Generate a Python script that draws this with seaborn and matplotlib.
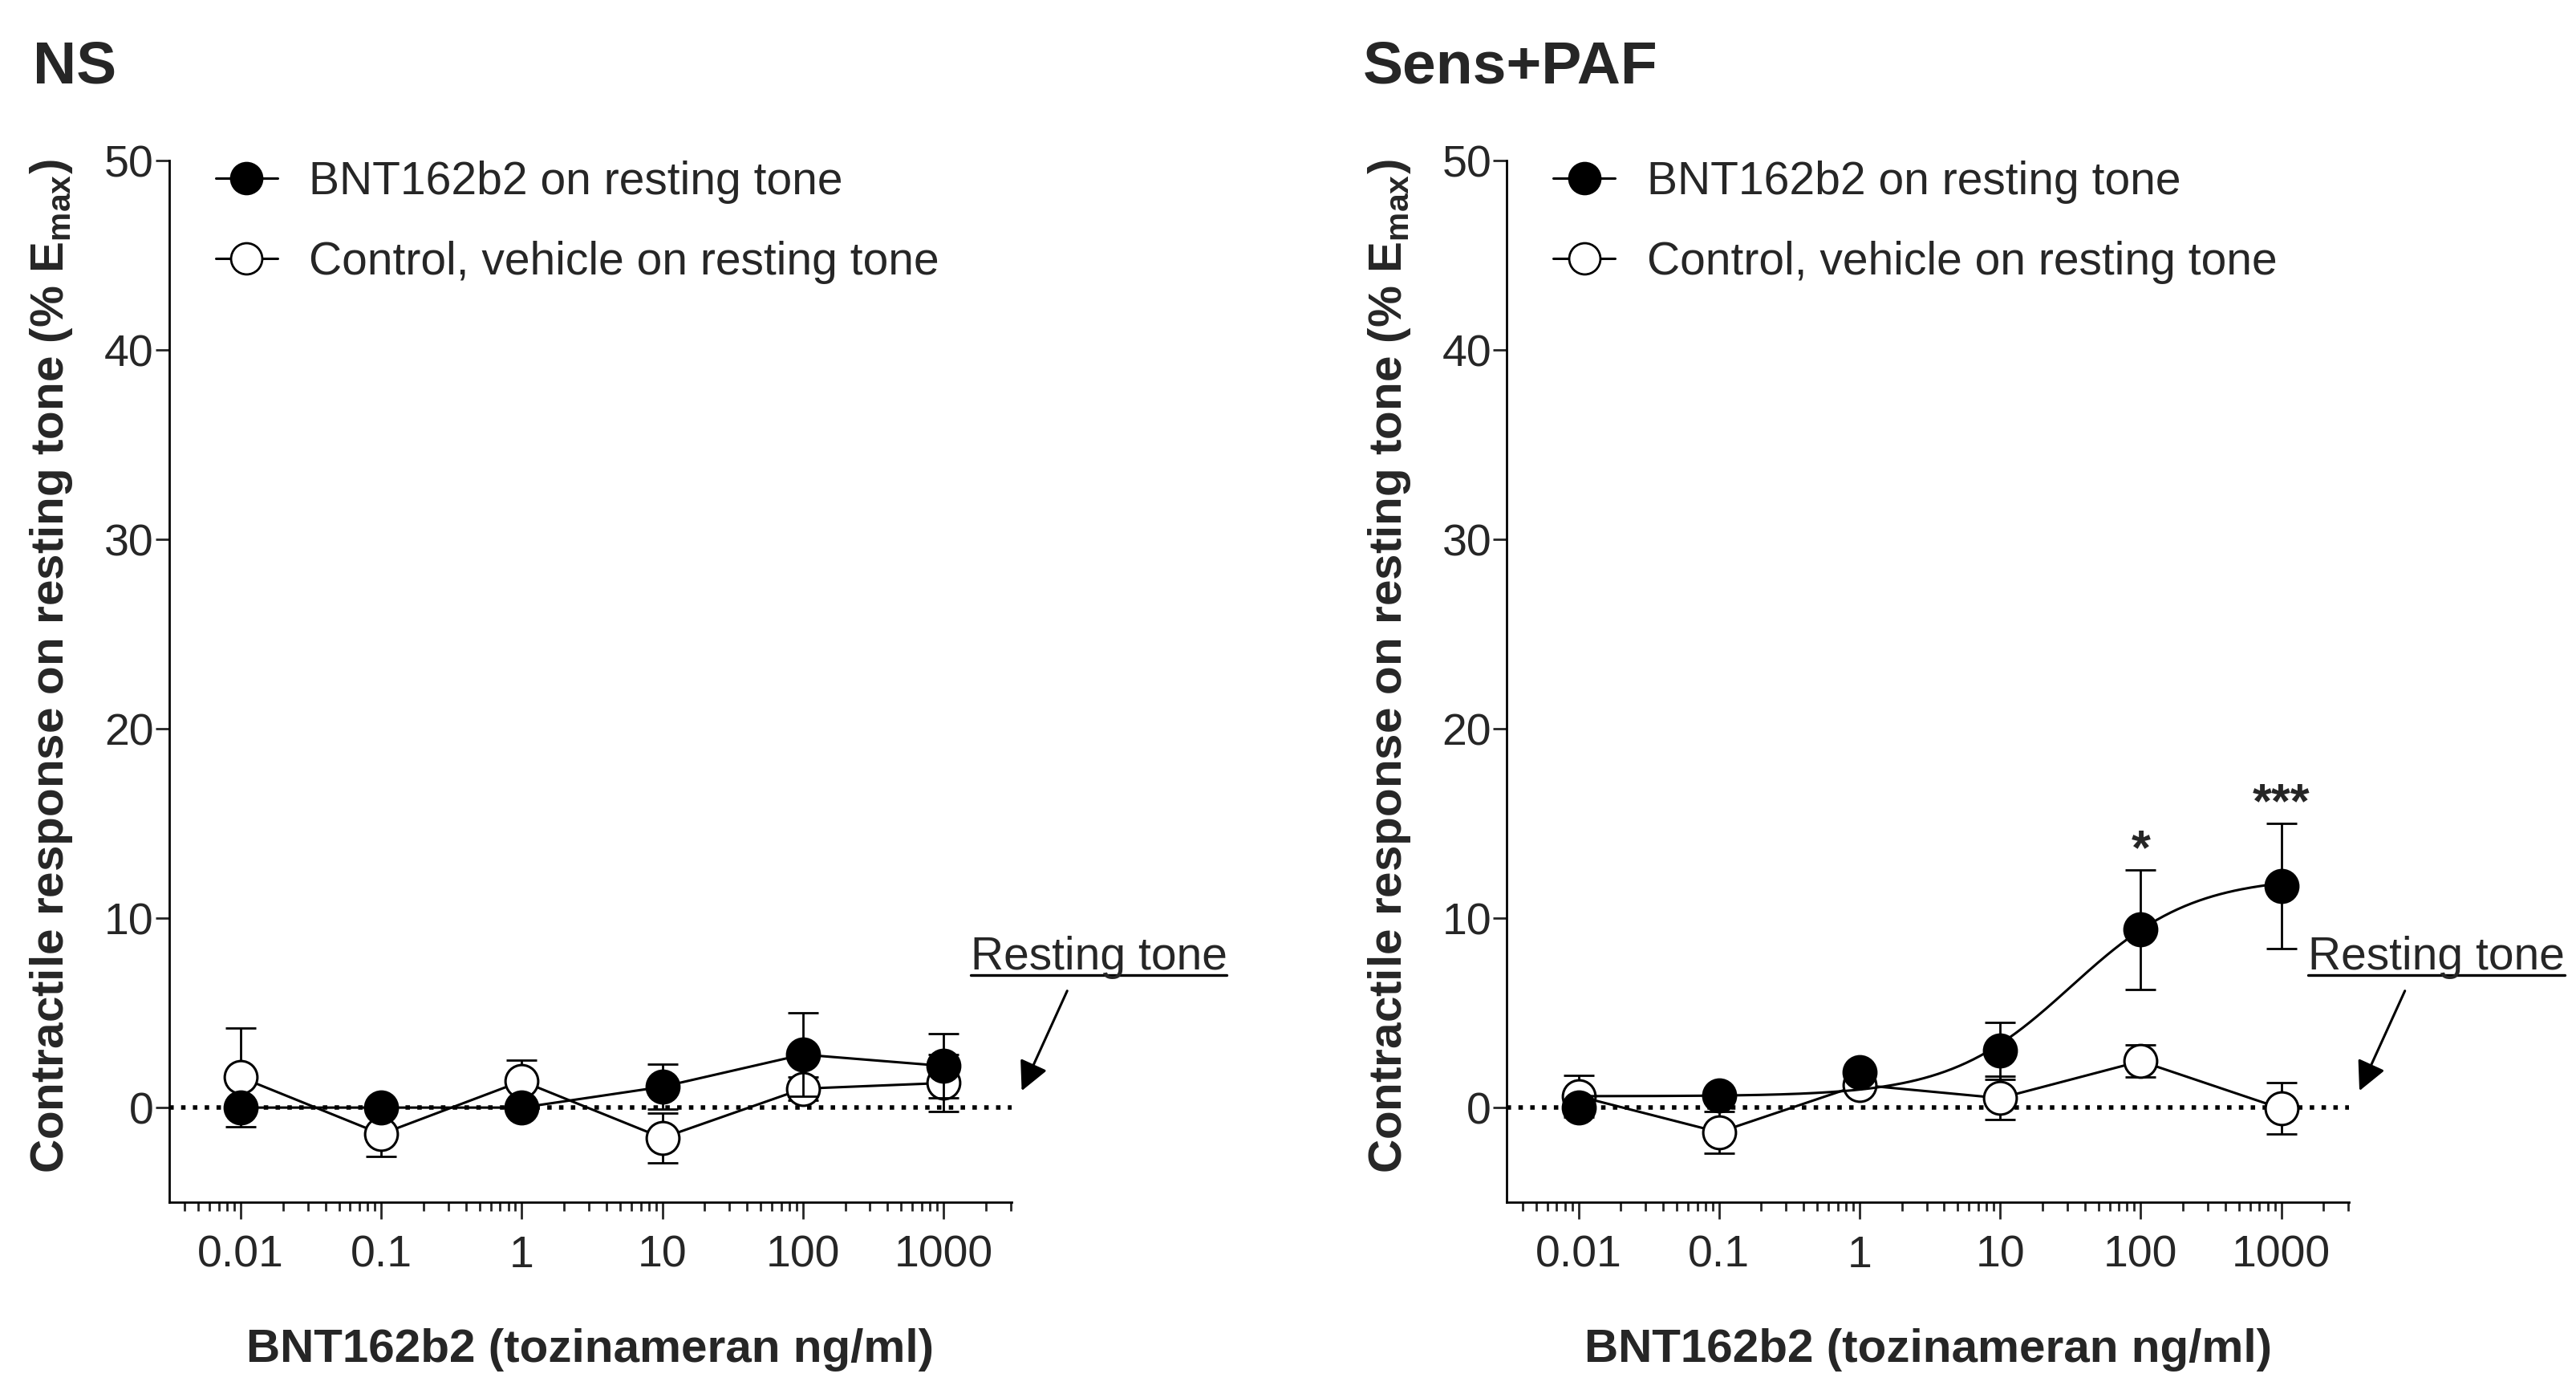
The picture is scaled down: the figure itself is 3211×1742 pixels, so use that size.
import numpy as np
import pandas as pd
import matplotlib
matplotlib.use("Agg")
import matplotlib.pyplot as plt
import matplotlib.ticker as mticker
import seaborn as sns
from matplotlib.lines import Line2D

# concentrations (ng/ml)
conc = [0.01, 0.1, 1, 10, 100, 1000]

# NS panel: mean and SEM (% Emax)
ns_bnt_mean = [0.0, 0.0, 0.0, 1.1, 2.8, 2.2]
ns_bnt_sem = [0.3, 0.3, 0.3, 1.2, 2.2, 1.7]
ns_ctrl_mean = [1.6, -1.4, 1.4, -1.6, 1.0, 1.3]
ns_ctrl_sem = [2.6, 1.2, 1.1, 1.3, 0.6, 1.5]

# Sens+PAF panel
sp_bnt_mean = [0.0, 0.65, 1.85, 3.0, 9.4, 11.7]
sp_bnt_sem = [0.3, 0.3, 0.3, 1.5, 3.15, 3.3]
sp_ctrl_mean = [0.6, -1.3, 1.2, 0.5, 2.45, -0.05]
sp_ctrl_sem = [1.1, 1.1, 0.4, 1.15, 0.85, 1.35]
sp_stars = ["", "", "", "", "*", "***"]

# sigmoid fit drawn for BNT162b2 in Sens+PAF (bottom, top, EC50, hill)
fit_bottom, fit_top, fit_ec50, fit_hill = 0.6, 12.2, 32.0, 1.0

labels = ["BNT162b2 on resting tone", "Control, vehicle on resting tone"]
xticks = [0.01, 0.1, 1, 10, 100, 1000]
xticklabels = ["0.01", "0.1", "1", "10", "100", "1000"]
yticks = [0, 10, 20, 30, 40, 50]

sns.set_style("ticks")
plt.rcParams["font.family"] = ["Liberation Sans", "DejaVu Sans"]
plt.rcParams["mathtext.fontset"] = "custom"
plt.rcParams["mathtext.bf"] = "Liberation Sans:bold"
plt.rcParams["mathtext.rm"] = "Liberation Sans"

FS = 20.5


def draw_group(ax, mean, sem, face, z, connect=True):
    df = pd.DataFrame({"conc": conc, "resp": mean})
    ax.errorbar(conc, mean, yerr=sem, fmt="none", ecolor="black",
                elinewidth=1.0, capsize=7, capthick=1.0, zorder=z)
    if connect:
        sns.lineplot(data=df, x="conc", y="resp", color="black", lw=1.1,
                     ax=ax, zorder=z + 0.1)
    sns.scatterplot(data=df, x="conc", y="resp", color=face, edgecolor="black",
                    linewidth=1.1, s=215, ax=ax, zorder=z + 0.2)


def style_axes(ax):
    ax.set_xscale("log")
    ax.set_xlim(0.0031, 3050)
    ax.set_ylim(-5, 50)
    ax.set_xticks(xticks)
    ax.set_xticklabels(xticklabels)
    ax.xaxis.set_minor_locator(mticker.LogLocator(base=10, subs=np.arange(2, 10), numticks=100))
    ax.xaxis.set_minor_formatter(mticker.NullFormatter())
    ax.set_yticks(yticks)
    ax.tick_params(axis="x", which="major", length=7.6, width=1.0, pad=7, labelsize=20)
    ax.tick_params(axis="x", which="minor", length=3.8, width=1.0, bottom=True)
    ax.tick_params(axis="y", which="major", length=6, width=1.0, pad=1, labelsize=20)
    ax.tick_params(axis="y", which="minor", left=False)
    for s in ["top", "right"]:
        ax.spines[s].set_visible(False)
    for s in ["left", "bottom"]:
        ax.spines[s].set_linewidth(1.0)
        ax.spines[s].set_color("black")
    ax.axhline(0, color="black", ls=":", lw=2.0, zorder=1)
    ax.set_xlabel("BNT162b2 (tozinameran ng/ml)", fontsize=21, fontweight="bold")
    ax.set_ylabel(r"Contractile response on resting tone (% E$_{\mathbf{max}}$)",
                  fontsize=21, fontweight="bold")
    ax.xaxis.set_label_coords(0.5, -0.121)
    ax.yaxis.set_label_coords(-0.112, 0.515)
    handles = [
        Line2D([0], [0], color="black", lw=1.1, marker="o", ms=14, mfc="black", mec="black"),
        Line2D([0], [0], color="black", lw=1.1, marker="o", ms=14, mfc="white", mec="black"),
    ]
    ax.legend(handles, labels, loc="upper left", bbox_to_anchor=(0.055, 1.0),
              frameon=False, fontsize=FS, handlelength=1.35, handletextpad=0.7,
              labelspacing=0.8, borderpad=0, borderaxespad=0)
    t = ax.text(0.951, 0.235, "Resting tone", transform=ax.transAxes, fontsize=FS,
                va="center", ha="left", clip_on=False)
    ax.annotate("", xy=(1.012, 0.107), xytext=(1.066, 0.203),
                xycoords="axes fraction", textcoords="axes fraction",
                arrowprops=dict(arrowstyle="-|>", color="black", lw=1.1,
                                mutation_scale=28, shrinkA=0, shrinkB=0))
    return t


fig = plt.figure(figsize=(16.055, 8.71), dpi=200)
ax1 = fig.add_axes([0.0657, 0.140, 0.327, 0.745])
ax2 = fig.add_axes([0.585, 0.140, 0.327, 0.745])

# NS
draw_group(ax1, ns_ctrl_mean, ns_ctrl_sem, "white", 3)
draw_group(ax1, ns_bnt_mean, ns_bnt_sem, "black", 4)

# Sens+PAF
draw_group(ax2, sp_ctrl_mean, sp_ctrl_sem, "white", 3)
draw_group(ax2, sp_bnt_mean, sp_bnt_sem, "black", 4, connect=False)
xfit = np.logspace(-2, 3, 300)
yfit = fit_bottom + (fit_top - fit_bottom) / (1 + (fit_ec50 / xfit) ** fit_hill)
sns.lineplot(x=xfit, y=yfit, color="black", lw=1.1, ax=ax2, zorder=4.1)
for c, m, e, s in zip(conc, sp_bnt_mean, sp_bnt_sem, sp_stars):
    if s:
        ax2.text(c, m + e + 1.0, s, ha="center", va="center", fontsize=22,
                 fontweight="bold")

texts = [style_axes(ax1), style_axes(ax2)]

fig.text(0.0128, 0.952, "NS", fontsize=27, fontweight="bold", va="center", ha="left")
fig.text(0.529, 0.952, "Sens+PAF", fontsize=27, fontweight="bold", va="center", ha="left")

# underline the "Resting tone" labels
fig.canvas.draw()
r = fig.canvas.get_renderer()
for ax, t in zip([ax1, ax2], texts):
    bb = t.get_window_extent(r).transformed(ax.transAxes.inverted())
    ax.plot([bb.x0, bb.x1], [bb.y0 + 0.004, bb.y0 + 0.004], color="black", lw=1.2,
            transform=ax.transAxes, clip_on=False)

fig.savefig("out.png", dpi=200)
